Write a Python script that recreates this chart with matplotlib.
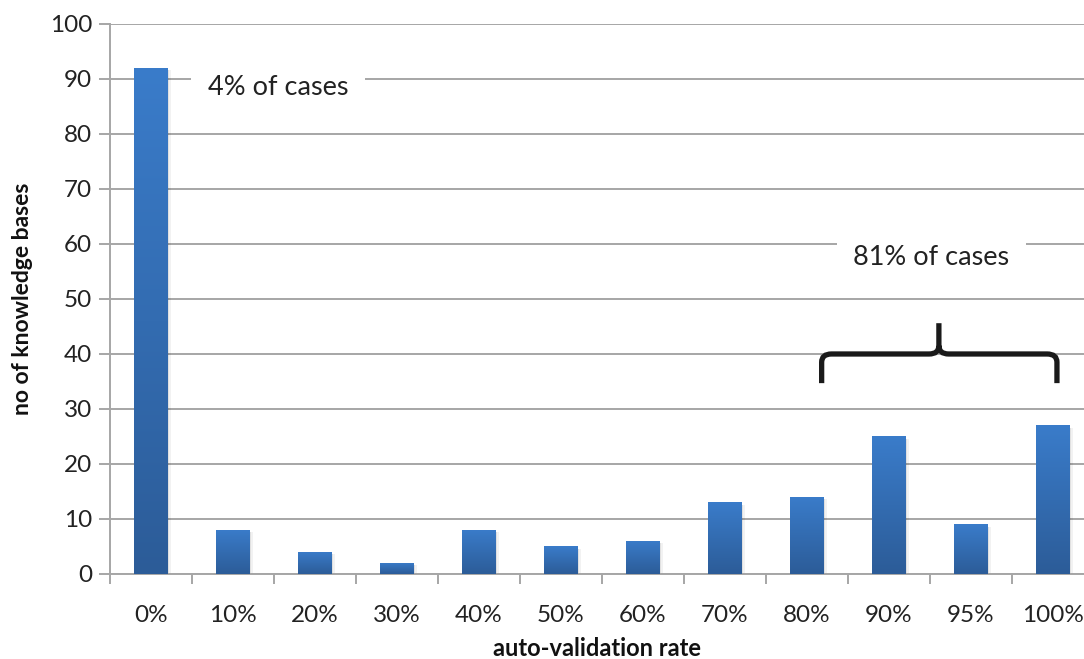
import numpy as np
import matplotlib.pyplot as plt
from matplotlib.path import Path
from matplotlib.patches import PathPatch
from matplotlib.colors import LinearSegmentedColormap

rates = ["0%", "10%", "20%", "30%", "40%", "50%", "60%", "70%", "80%", "90%", "95%", "100%"]
counts = [92, 8, 4, 2, 8, 5, 6, 13, 14, 25, 9, 27]

plt.rcParams["font.family"] = ["Lato", "DejaVu Sans"]

fig = plt.figure(figsize=(10.84, 6.59), dpi=100)
ax = fig.add_axes([0.1015, 0.129, 0.8985, 0.8346])

x = np.arange(len(rates))
bars = ax.bar(x, counts, width=0.41, color="#3470b8", zorder=3)

# vertical gradient on every bar, light at the top and darker at the base
cmap = LinearSegmentedColormap.from_list("bar", ["#2c5c98", "#3a7cca"])
grad = np.linspace(0, 1, 256).reshape(-1, 1)
for b in bars:
    x0, y0 = b.get_x(), b.get_y()
    w, h = b.get_width(), b.get_height()
    # faint shadow to the right and below
    for k, a in [(0.035, 0.05), (0.02, 0.07)]:
        ax.bar(x0 + w / 2 + k, h, width=w, bottom=-0.4, color="#000000",
               alpha=a, zorder=2, linewidth=0)
    im = ax.imshow(grad, cmap=cmap, origin="lower", aspect="auto",
                   extent=[x0, x0 + w, y0, y0 + h], zorder=4)
    im.set_clip_path(b)

ax.set_xlim(-0.5, 11.38)
ax.set_ylim(0, 100)
ax.set_yticks(range(0, 101, 10))
ax.set_xticks(x)
ax.set_xticklabels(rates)
ax.set_xticks(np.arange(-0.5, 11.5, 1), minor=True)

ax.grid(axis="y", color="#a6a6a6", linewidth=1.4, zorder=0)
for s in ["top", "right"]:
    ax.spines[s].set_visible(False)
for s in ["left", "bottom"]:
    ax.spines[s].set_color("#a6a6a6")
    ax.spines[s].set_linewidth(1.4)
ax.tick_params(axis="y", length=8, width=1.4, color="#a6a6a6", labelsize=17.5,
               labelcolor="#222222", pad=5)
ax.tick_params(axis="x", which="major", length=0, labelsize=17.5,
               labelcolor="#222222", pad=22)
ax.tick_params(axis="x", which="minor", length=7, width=1.4, color="#a6a6a6")

ax.set_ylabel("no of knowledge bases", fontsize=16.5, fontweight="bold",
              color="#111111", labelpad=12)
ax.set_xlabel("auto-validation rate", fontsize=17, fontweight="bold",
              color="#111111", va="top")
ax.xaxis.set_label_coords(0.5, -0.114)

ax.text(1.55, 88.5, "4% of cases", fontsize=19.5, color="#222222", ha="center",
        va="center", zorder=5,
        bbox=dict(facecolor="white", edgecolor="none", pad=12))
ax.text(9.52, 57.5, "81% of cases", fontsize=19.5, color="#222222", ha="center",
        va="center", zorder=5,
        bbox=dict(facecolor="white", edgecolor="none", pad=12))

# curly brace over the 80%-100% bars
xl, xr, xm = 8.18, 11.05, 9.61
yb, yh, yp = 34.7, 40.0, 45.6
r = 0.12
verts = [(xl, yb), (xl, yh - 1.5), (xl, yh), (xl + r, yh),
         (xm - r, yh), (xm, yh), (xm, yh + 1.5), (xm, yp),
         (xm, yh + 1.5), (xm, yh), (xm + r, yh),
         (xr - r, yh), (xr, yh), (xr, yh - 1.5), (xr, yb)]
codes = [Path.MOVETO, Path.LINETO, Path.CURVE3, Path.CURVE3,
         Path.LINETO, Path.CURVE3, Path.CURVE3, Path.LINETO,
         Path.MOVETO, Path.CURVE3, Path.CURVE3,
         Path.LINETO, Path.CURVE3, Path.CURVE3, Path.LINETO]
ax.add_patch(PathPatch(Path(verts, codes), facecolor="none", edgecolor="#1a1a1a",
                       linewidth=3.8, capstyle="butt", zorder=6))

fig.savefig("out.png", dpi=100)
